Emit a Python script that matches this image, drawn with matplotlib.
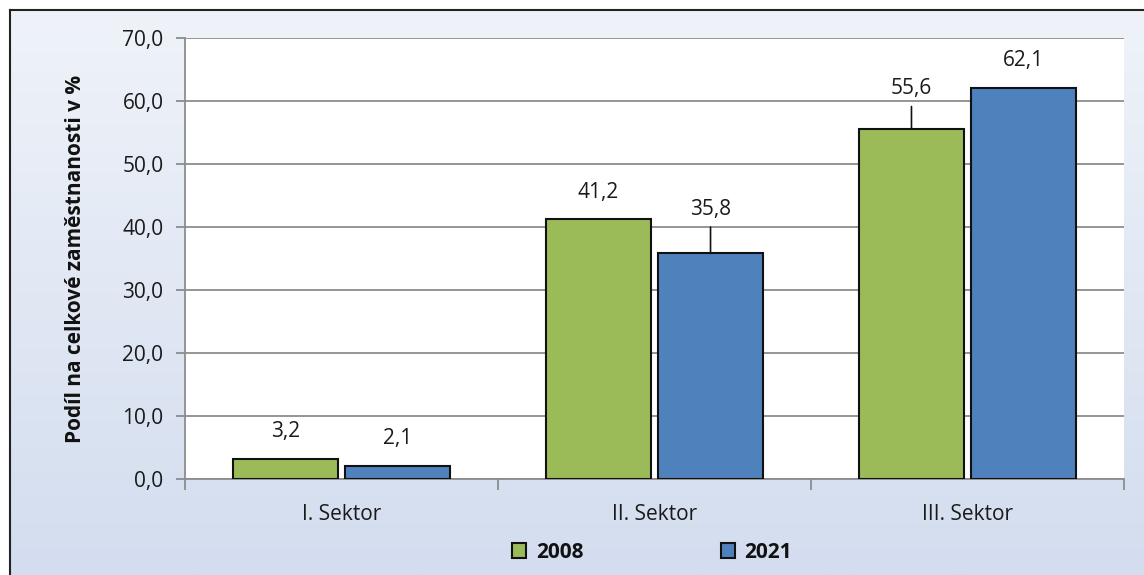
import numpy as np
import matplotlib.pyplot as plt
from matplotlib.colors import LinearSegmentedColormap

# data
sectors = ['I. Sektor', 'II. Sektor', 'III. Sektor']
years = ['2008', '2021']
share_2008 = [3.2, 41.2, 55.6]
share_2021 = [2.1, 35.8, 62.1]
colors = ['#9bbb59', '#4f81bd']

plt.rcParams['font.family'] = ['Open Sans', 'DejaVu Sans']
FS = 15

W, H = 1144, 575
fig = plt.figure(figsize=(W / 100, H / 100), dpi=100)

# background panel with soft vertical gradient
bg = fig.add_axes([10 / W, 0, 1 - 10 / W, 1 - 10 / H])
grad = np.linspace(0, 1, 256).reshape(-1, 1)
cmap = LinearSegmentedColormap.from_list('bg', ['#d3ddef', '#eff3f9'])
bg.imshow(grad, aspect='auto', cmap=cmap, origin='lower', extent=[0, 1, 0, 1])
bg.set_xticks([])
bg.set_yticks([])
for side in ['right', 'bottom']:
    bg.spines[side].set_visible(False)
for side in ['left', 'top']:
    bg.spines[side].set_color('#222222')
    bg.spines[side].set_linewidth(1.5)

ax = fig.add_axes([185 / W, 1 - 479 / H, (1124 - 185) / W, (479 - 38) / H])
ax.set_facecolor('white')

x = np.arange(len(sectors))
off = 0.179
width = 0.338
series = [share_2008, share_2021]
for i, (vals, col, lab) in enumerate(zip(series, colors, years)):
    pos = x + (-off if i == 0 else off)
    ax.bar(pos, vals, width, color=col, edgecolor='#111111', linewidth=1.5,
           label=lab, zorder=3)

# value labels; two of them sit higher with leader lines
leader = {(0, 2): True, (1, 1): True}
for i, vals in enumerate(series):
    pos = x + (-off if i == 0 else off)
    for j, (px, v) in enumerate(zip(pos, vals)):
        txt = f'{v:.1f}'.replace('.', ',')
        if leader.get((i, j)):
            dy = 29 if i == 0 else 32
            ax.annotate(txt, (px, v), xytext=(0, dy), textcoords='offset points',
                        ha='center', va='center', fontsize=FS, color='#1a1a1a')
            ax.annotate('', (px, v), xytext=(0, dy - 13), textcoords='offset points',
                        arrowprops=dict(arrowstyle='-', color='#111111', lw=1.2,
                                        shrinkA=0, shrinkB=0))
        else:
            ax.annotate(txt, (px, v), xytext=(0, 19.5), textcoords='offset points',
                        ha='center', va='center', fontsize=FS, color='#1a1a1a')

ax.set_ylim(0, 70)
ax.set_xlim(-0.5, 2.5)
ax.set_yticks(np.arange(0, 71, 10))
ax.set_yticklabels([f'{t:.1f}'.replace('.', ',') for t in np.arange(0, 71, 10)],
                   fontsize=FS, color='#1a1a1a')
ax.yaxis.grid(True, color='#8c8c8c', linewidth=1.3, zorder=0)
ax.set_axisbelow(True)
ax.tick_params(axis='y', length=6.5, width=1.3, color='#8c8c8c', pad=9)

ax.set_xticks([-0.5, 0.5, 1.5, 2.5])
ax.set_xticklabels([])
ax.set_xticks(x, minor=True)
ax.set_xticklabels(sectors, minor=True, fontsize=FS, color='#1a1a1a')
ax.tick_params(axis='x', which='major', length=8, width=1.3, color='#8c8c8c')
ax.tick_params(axis='x', which='minor', length=0, pad=18)

for side in ['top', 'right']:
    ax.spines[side].set_visible(False)
for side in ['left', 'bottom']:
    ax.spines[side].set_color('#8c8c8c')
    ax.spines[side].set_linewidth(1.3)

ax.set_ylabel('Podíl na celkové zaměstnanosti v %', fontsize=FS,
              fontweight='bold', color='#111111')
ax.yaxis.set_label_coords(-0.105, 0.5)

leg = fig.legend(loc='center', bbox_to_anchor=(652 / W, 1 - 552 / H), ncol=2,
                 frameon=False, prop={'size': FS, 'weight': 'bold'},
                 handlelength=0.7, handleheight=0.7, columnspacing=6.6,
                 handletextpad=0.45)
for t in leg.get_texts():
    t.set_color('#111111')

fig.savefig('out.png', dpi=100)
